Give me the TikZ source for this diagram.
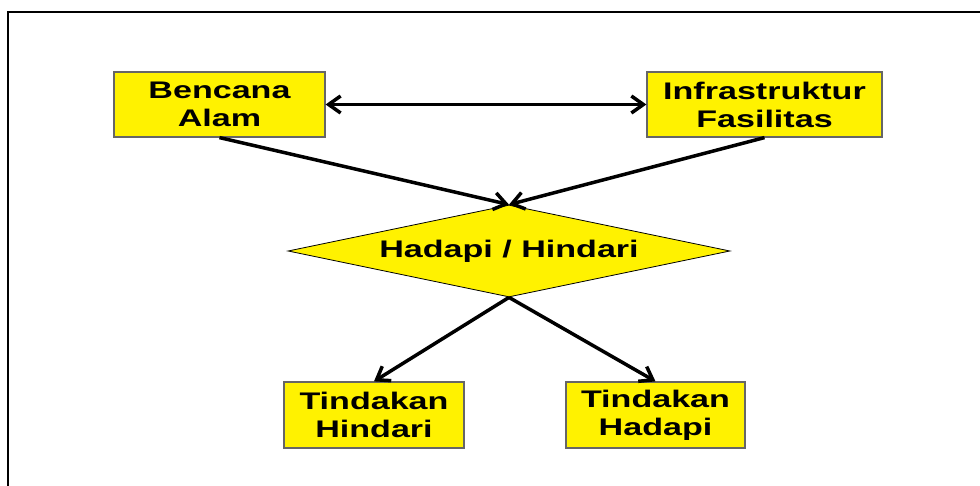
\documentclass[tikz,border=0pt]{standalone}
\usepackage{fontspec}
\newfontfamily\slidefont[FakeStretch=1.42]{Liberation Sans}
\usetikzlibrary{shapes.geometric,arrows.meta}
\tikzset{
  kotak/.style={draw=black!60, line width=1.2pt, fill=yellow, minimum height=65pt, inner sep=0pt, align=center},
  pilihan/.style={diamond, aspect=4.8, draw, line width=0.8pt, fill=yellow, minimum width=442pt, minimum height=92pt, inner sep=0pt},
  panah/.style={line width=3.5pt},
  >={Straight Barb[length=12pt,width=17pt]},
}
\begin{document}
\begin{tikzpicture}[x=1pt,y=-1pt,font=\slidefont\bfseries\fontsize{24}{28}\selectfont]
        \useasboundingbox (0,0) rectangle (980,486);
        %% Frame
        \draw[line width=2pt] (8,496) -- (8,12) -- (990,12);
        %% Boxes
        \node[kotak,minimum width=211pt] (bencana) at (219.5,104.5) {Bencana\\Alam};
        \node[kotak,minimum width=235pt] (infra) at (764.5,104.5) {Infrastruktur\\Fasilitas};
        \node[pilihan] (pilih) at (509,251) {Hadapi / Hindari};
        \node[kotak,minimum width=180pt,minimum height=66pt] (hindari) at (374,415) {Tindakan\\Hindari};
        \node[kotak,minimum width=179pt,minimum height=66pt] (hadapi) at (655.5,415) {Tindakan\\Hadapi};
        %% Arrows
        \draw[panah,<->] (bencana) -- (infra);
        \draw[panah,->] (bencana.south) -- (pilih.north);
        \draw[panah,->] (infra.south) -- (pilih.north);
        \draw[panah,->] (pilih.south) -- (hindari.north);
        \draw[panah,->] (pilih.south) -- (hadapi.north);
    \end{tikzpicture}
\end{document}
